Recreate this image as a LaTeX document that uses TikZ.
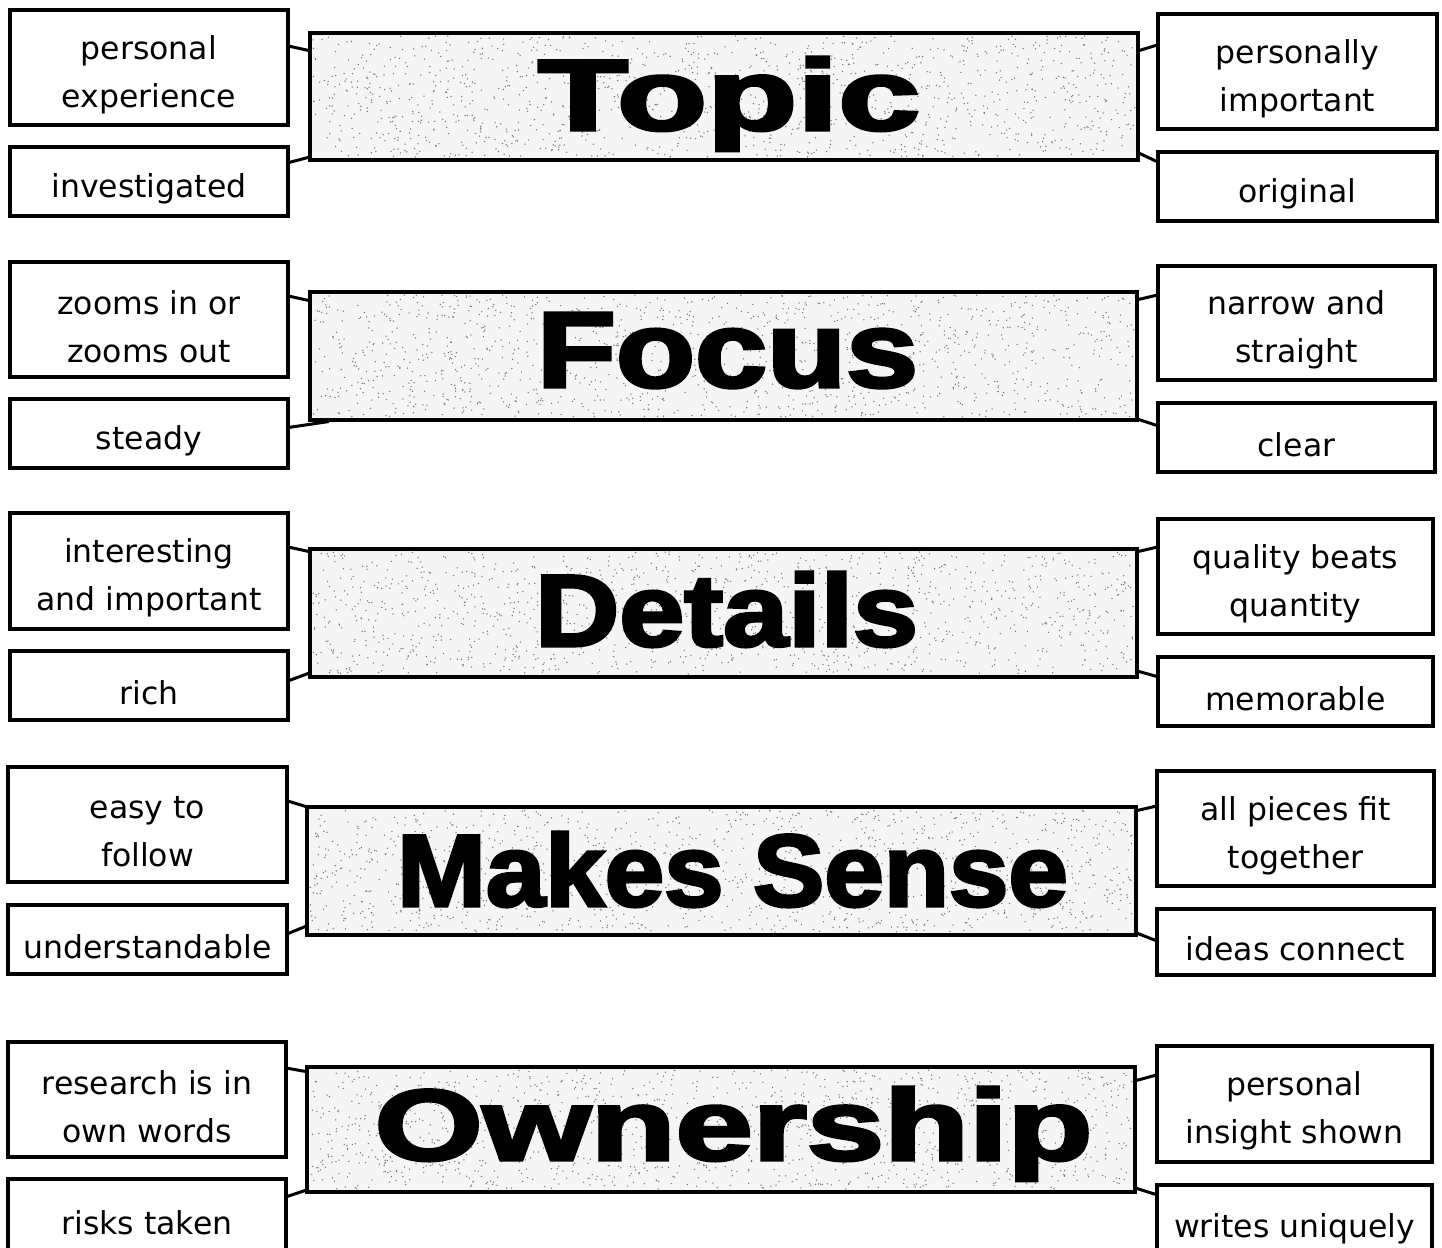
\documentclass[tikz,border=0pt]{standalone}
\usepackage{fontspec}
\setmainfont{DejaVu Sans}
\newfontfamily\titlefont[UprightFont={* Bold},FakeBold=3]{Liberation Sans}
\usetikzlibrary{calc}
\tikzset{
  lab/.style={draw=black, line width=3.4pt, inner sep=0pt},
  labtext/.style={align=center, inner sep=0pt, font=\fontsize{31.5}{48}\selectfont},
  titlebox/.style={draw=black, line width=3.2pt, fill=black!4, inner sep=0pt},
  speck/.style={fill=black!55},
  titletext/.style={anchor=base, inner sep=0pt},
  conn/.style={line width=3pt, line cap=round}
}
\pgfmathsetseed{4242}
\newcommand\bx[6]{%
  \node[lab, minimum width={(#4-#2)*1pt}, minimum height={(#5-#3)*1pt}] (#1) at ({(#2+#4)/2},{(#3+#5)/2}) {};
  \node[labtext, yshift=-7pt] (#1-t) at (#1.center) {#6};}
\newcommand\cb[5]{%
  \node[titlebox, minimum width={(#4-#2)*1pt}, minimum height={(#5-#3)*1pt}] (#1) at ({(#2+#4)/2},{(#3+#5)/2}) {};
  \foreach \k in {1,...,1300}{\fill[speck] ({#2+3+rnd*(#4-#2-6)},{#3+3+rnd*(#5-#3-6)}) circle (0.75);}}
\newcommand\cn[4]{\draw[conn] ([yshift=-#2pt]#1) -- ([yshift=-#4pt]#3);}
\begin{document}
\begin{tikzpicture}[x=1pt,y=-1pt]
\useasboundingbox (0,0) rectangle (1442,1247);
\clip (0,0) rectangle (1442,1247);
\fill[white] (0,0) rectangle (1442,1247);
% ---------- Topic
\cb{tc}{310}{33}{1138}{160}
\node[titletext] (tt) at (729,130) {\resizebox{382pt}{73pt}{\titlefont Topic}};
\bx{tl1}{10}{10}{288}{125}{personal\\experience}
\bx{tl2}{10}{147}{288}{216}{investigated}
\bx{tr1}{1158}{14}{1437}{129}{personally\\important}
\bx{tr2}{1158}{152}{1437}{221}{original}
\cn{tl1.north east}{38}{tc.north west}{19}
\cn{tl2.north east}{17}{tc.north west}{126}
\cn{tc.north east}{19}{tr1.north west}{33}
\cn{tc.north east}{122}{tr2.north west}{11}
% ---------- Focus
\cb{fc}{310}{292}{1137}{420}
\node[titletext] (ft) at (727.5,387) {\resizebox{381pt}{74pt}{\titlefont Focus}};
\bx{fl1}{10}{262}{288}{377}{zooms in or\\zooms out}
\bx{fl2}{10}{399}{288}{468}{steady}
\bx{fr1}{1158}{266}{1435}{380}{narrow and\\straight}
\bx{fr2}{1158}{403}{1435}{472}{clear}
\cn{fl1.north east}{36}{fc.north west}{10}
\draw[conn] ([yshift=-30pt]fl2.north east) -- ([xshift=20pt]fc.south west);
\cn{fc.north east}{9}{fr1.north west}{31}
\cn{fc.north east}{129}{fr2.north west}{24}
% ---------- Details
\cb{dc}{310}{549}{1137}{677}
\node[titletext] (dt) at (726.5,646) {\resizebox{383pt}{74pt}{\titlefont Details}};
\bx{dl1}{10}{513}{288}{629}{interesting\\and important}
\bx{dl2}{10}{651}{288}{720}{rich}
\bx{dr1}{1158}{519}{1433}{634}{quality beats\\quantity}
\bx{dr2}{1158}{657}{1433}{726}{memorable}
\cn{dl1.north east}{36}{dc.north west}{4}
\cn{dl2.north east}{31}{dc.north west}{126}
\cn{dc.north east}{4}{dr1.north west}{30}
\cn{dc.north east}{124}{dr2.north west}{21}
% ---------- Makes Sense
\cb{mc}{307}{807}{1136}{935}
\node[titletext] (mt) at (732.5,906) {\resizebox{671pt}{74pt}{\titlefont Makes Sense}};
\bx{ml1}{8}{767}{287}{882}{easy to\\follow}
\bx{ml2}{8}{905}{287}{974}{understandable}
\bx{mr1}{1157}{771}{1434}{886}{all pieces fit\\together}
\bx{mr2}{1157}{909}{1434}{975}{ideas connect}
\cn{ml1.north east}{36}{mc.north west}{1}
\cn{ml2.north east}{30}{mc.north west}{121}
\cn{mc.north east}{5}{mr1.north west}{37}
\cn{mc.north east}{128}{mr2.north west}{33}
% ---------- Ownership
\cb{oc}{307}{1067}{1135}{1192}
\node[titletext] (ot) at (733.5,1160) {\resizebox{717pt}{73pt}{\titlefont Ownership}};
\bx{ol1}{8}{1042}{286}{1157}{research is in\\own words}
\bx{ol2}{8}{1179}{286}{1252}{risks taken}
\bx{or1}{1157}{1046}{1432}{1162}{personal\\insight shown}
\bx{or2}{1157}{1185}{1432}{1258}{writes uniquely}
\cn{ol1.north east}{28}{oc.north west}{6}
\cn{ol2.north east}{19}{oc.north west}{125}
\cn{oc.north east}{15}{or1.north west}{31}
\cn{oc.north east}{123}{or2.north west}{11}
\end{tikzpicture}
\end{document}
